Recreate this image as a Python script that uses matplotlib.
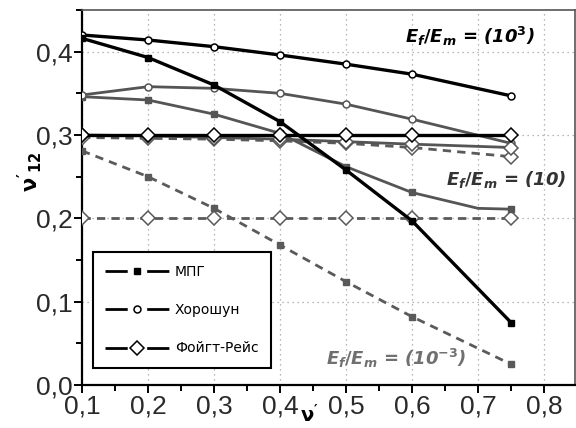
import matplotlib
matplotlib.use("Agg")
import matplotlib.pyplot as plt
from matplotlib.lines import Line2D
from matplotlib.ticker import FuncFormatter, MultipleLocator

plt.rcParams['font.family'] = ['Liberation Sans', 'DejaVu Sans']
plt.rcParams['mathtext.fontset'] = 'custom'
plt.rcParams['mathtext.it'] = 'DejaVu Sans:italic:bold'
plt.rcParams['mathtext.rm'] = 'DejaVu Sans:bold'
plt.rcParams['mathtext.bf'] = 'DejaVu Sans:bold'

# ---- data ----
x = [0.1, 0.2, 0.3, 0.4, 0.5, 0.6, 0.75]
x_mpg10 = [0.1, 0.2, 0.3, 0.4, 0.5, 0.6, 0.7, 0.75]

# E_f/E_m = 10^3 (black)
mpg_1e3 = [0.416, 0.393, 0.360, 0.316, 0.258, 0.197, 0.075]
hor_1e3 = [0.420, 0.414, 0.406, 0.396, 0.385, 0.373, 0.347]
vr_1e3 = [0.300, 0.300, 0.300, 0.300, 0.300, 0.300, 0.300]

# E_f/E_m = 10 (gray)
mpg_10 = [0.346, 0.342, 0.325, 0.302, 0.262, 0.231, 0.212, 0.211]
hor_10 = [0.348, 0.358, 0.356, 0.350, 0.337, 0.319, 0.290]
vr_10 = [0.300, 0.299, 0.297, 0.295, 0.292, 0.289, 0.285]

# E_f/E_m = 10^-3 (gray dashed)
vr_1e_3b = [0.297, 0.296, 0.295, 0.293, 0.290, 0.285, 0.274]
mpg_1e_3 = [0.281, 0.250, 0.212, 0.168, 0.124, 0.082, 0.025]
vr_1e_3 = [0.200, 0.200, 0.200, 0.200, 0.200, 0.200, 0.200]

legend_labels = ["МПГ", "Хорошун", "Фойгт-Рейс"]
xticks = [0.1, 0.2, 0.3, 0.4, 0.5, 0.6, 0.7, 0.8]
yticks = [0.0, 0.1, 0.2, 0.3, 0.4]

fig = plt.figure(figsize=(5.76, 4.28), dpi=100)
ax = fig.add_axes([82 / 576, 1 - 385 / 428, 493 / 576, 375 / 428])

black = 'black'
gray = '#555555'
dgray = '#5a5a5a'
dash = (0, (3.0, 2.2))
ms_sq, ms_o, ms_d = 5, 5, 7

# 10^-3 dashed gray
ax.plot(x, vr_1e_3, color=dgray, lw=2.0, ls=dash, marker='D', ms=ms_d,
        mfc='white', mec=dgray, mew=1.1, zorder=3)
ax.plot(x, mpg_1e_3, color=dgray, lw=2.0, ls=dash, marker='s', ms=ms_sq,
        mfc=dgray, mec=dgray, zorder=3)
ax.plot(x, vr_1e_3b, color=dgray, lw=2.0, ls=dash, marker='D', ms=ms_d,
        mfc='white', mec=dgray, mew=1.1, zorder=3)

# 10 gray solid
ax.plot(x_mpg10, mpg_10, color=gray, lw=2.0, marker='s', ms=ms_sq,
        mfc=gray, mec=gray, markevery=[0, 1, 2, 3, 4, 5, 7], zorder=4)
ax.plot(x, hor_10, color=gray, lw=2.0, marker='o', ms=ms_o,
        mfc='white', mec=gray, mew=1.1, zorder=4)
ax.plot(x, vr_10, color=gray, lw=2.0, marker='D', ms=ms_d,
        mfc='white', mec=gray, mew=1.1, zorder=4)

# 10^3 black solid
ax.plot(x, vr_1e3, color=black, lw=2.4, marker='D', ms=ms_d,
        mfc='white', mec=black, mew=1.1, zorder=5)
ax.plot(x, hor_1e3, color=black, lw=2.4, marker='o', ms=ms_o,
        mfc='white', mec=black, mew=1.1, zorder=5)
ax.plot(x, mpg_1e3, color=black, lw=2.4, marker='s', ms=ms_sq,
        mfc=black, mec=black, zorder=5)

ax.set_xlim(0.1, 0.1 + 493 / 660)
ax.set_ylim(0.0, 0.45)
ax.set_xticks(xticks)
ax.set_yticks(yticks)
ax.xaxis.set_minor_locator(MultipleLocator(0.05))
ax.yaxis.set_minor_locator(MultipleLocator(0.05))
fmt = FuncFormatter(lambda v, p: f"{v:.1f}".replace('.', ','))
ax.xaxis.set_major_formatter(fmt)
ax.yaxis.set_major_formatter(fmt)
ax.tick_params(which='major', direction='out', length=6, width=1.4,
               labelsize=19, colors='black', labelcolor='#2a2a2a', pad=1)
ax.tick_params(which='minor', direction='out', length=4, width=1.4)
ax.tick_params(top=False, right=False)
ax.grid(True, which='major', ls=(0, (1, 3)), color='#a0a0a0', lw=0.9)
ax.set_axisbelow(True)
for s in ['left', 'bottom']:
    ax.spines[s].set_linewidth(1.6)
for s in ['top', 'right']:
    ax.spines[s].set_linewidth(1.2)
    ax.spines[s].set_color('#555555')

# annotations
ax.text(0.59, 0.418, r"$E_f/E_m$ = (10$^3$)", fontsize=13, fontweight='bold',
        style='italic', family='DejaVu Sans', color='black', va='center', ha='left')
ax.text(0.652, 0.246, r"$E_f/E_m$ = (10)", fontsize=13, fontweight='bold',
        style='italic', family='DejaVu Sans', color='#333333', va='center', ha='left')
ax.text(0.47, 0.032, r"$E_f/E_m$ = (10$^{-3}$)", fontsize=13, fontweight='bold',
        style='italic', family='DejaVu Sans', color='#707070', va='center', ha='left')

# legend
lh_style = (0, (8, 7, 8, 1))
handles = [
    Line2D([], [], color='black', lw=2.0, ls=lh_style, marker='s', ms=ms_sq,
           mfc='black', mec='black'),
    Line2D([], [], color='black', lw=2.0, ls=lh_style, marker='o', ms=ms_o,
           mfc='white', mec='black', mew=1.1),
    Line2D([], [], color='black', lw=2.0, ls=lh_style, marker='D', ms=ms_d,
           mfc='white', mec='black', mew=1.1),
]
leg = ax.legend(handles, legend_labels, loc='lower left',
                bbox_to_anchor=(0.008, 0.027, 0.39, 0.31), mode='expand',
                fontsize=10, handlelength=4.6, handletextpad=0.4,
                labelspacing=1.75, borderpad=0.9, frameon=True, fancybox=False,
                edgecolor='black', framealpha=1)
leg.get_frame().set_linewidth(1.5)
for t in leg.get_texts():
    t.set_family('DejaVu Sans')

# axis labels
fig.text(30 / 576, 1 - 172 / 428, r"$\mathbf{\nu'_{12}}$", rotation=90,
         fontsize=15, ha='center', va='center', family='DejaVu Sans')
fig.text(309 / 576, 2 / 428, r"$\mathbf{\nu'}$", fontsize=14,
         ha='center', va='bottom', family='DejaVu Sans')

fig.savefig("out.png", dpi=100)
